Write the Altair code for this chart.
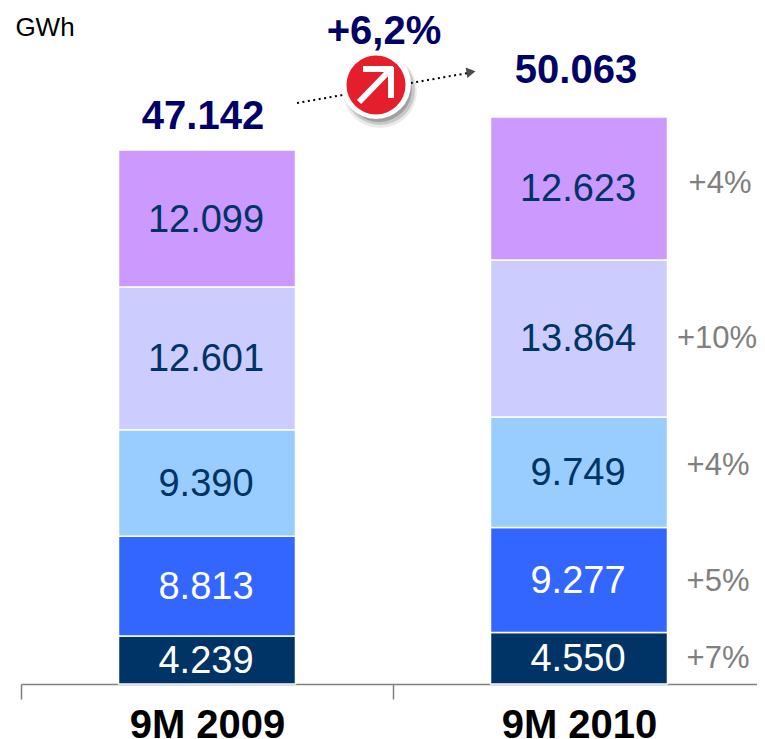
import altair as alt
import pandas as pd

periods = ["9M 2009", "9M 2010"]
series = ["s1", "s2", "s3", "s4", "s5"]
values_2009 = [4239, 8813, 9390, 12601, 12099]
values_2010 = [4550, 9277, 9749, 13864, 12623]
labels_2009 = ["4.239", "8.813", "9.390", "12.601", "12.099"]
labels_2010 = ["4.550", "9.277", "9.749", "13.864", "12.623"]
growth = ["+7%", "+5%", "+4%", "+10%", "+4%"]
totals = [47142, 50063]
total_labels = ["47.142", "50.063"]
colors = ["#003366", "#3366FF", "#99CCFF", "#CCCCFF", "#CC99FF"]
ink = ["#FFFFFF", "#FFFFFF", "#003366", "#003366", "#003366"]

rows = []
for period, vals, labs in [(periods[0], values_2009, labels_2009), (periods[1], values_2010, labels_2010)]:
    run = 0
    for s, v, lab, g in zip(series, vals, labs, growth):
        rows.append(dict(period=period, series=s, start=run, end=run + v, mid=run + v / 2, label=lab, growth=g))
        run += v
df = pd.DataFrame(rows)

FONT = "Liberation Sans"
xenc = alt.X("period:N", sort=periods, title=None, scale=alt.Scale(paddingInner=0, paddingOuter=0),
             axis=alt.Axis(labelAngle=0, labelFont=FONT, labelFontSize=40, labelFontWeight="bold", labelColor="#000000",
                           labelPadding=6, tickBand="extent", tickSize=15, tickColor="#808080", tickWidth=1.5,
                           domainColor="#808080", domainWidth=1.5, grid=False))
yscale = alt.Scale(domain=[0, 59687], nice=False, zero=False)
yenc = alt.Y("start:Q", scale=yscale, axis=None, title=None)
base = alt.Chart(df)

bars = base.mark_bar(size=177, stroke="#FFFFFF", strokeWidth=1.5).encode(
    x=xenc, y=yenc, y2="end:Q",
    color=alt.Color("series:N", scale=alt.Scale(domain=series, range=colors), legend=None),
)
seg_text = base.mark_text(font=FONT, fontSize=38, dy=2, dx=-1).encode(
    x=alt.X("period:N", sort=periods), y=alt.Y("mid:Q", scale=yscale),
    text="label:N",
    color=alt.Color("series:N", scale=alt.Scale(domain=series, range=ink), legend=None),
)

layers = [bars]

df_tot = pd.DataFrame({"period": periods, "total": totals, "label": total_labels})
for i, (dx, dy) in enumerate([(-4, -33), (-3, -46)]):
    layers.append(alt.Chart(df_tot.iloc[[i]]).mark_text(font=FONT, fontSize=40, fontWeight="bold", color="#000066", dx=dx, dy=dy).encode(
        x=alt.X("period:N", sort=periods), y=alt.Y("total:Q", scale=yscale), text="label:N"))

# growth labels beside the 2010 column
d10 = df[df.period == periods[1]]
for i, (dx, dy) in enumerate([(139, 1), (139, 2), (139, -6), (138, 1), (141, -4)]):
    layers.append(alt.Chart(d10.iloc[[i]]).mark_text(font=FONT, fontSize=31, color="#808080", dx=dx, dy=dy).encode(
        x=alt.X("period:N", sort=periods), y=alt.Y("mid:Q", scale=yscale), text="growth:N"))

OX, OY = 21, 8  # page position of the plot origin
def px(v): return alt.value(v - OX)
def py(v): return alt.value(v - OY)

note = alt.Chart(pd.DataFrame({"a": [0]}))
def rule(x1, y1, x2, y2, **kw):
    return note.mark_rule(**kw).encode(x=px(x1), y=py(y1), x2=px(x2), y2=py(y2))
def dot(x, y, d, color, opacity=1):
    return note.mark_point(filled=True, shape="circle", size=d * d, color=color, opacity=opacity, strokeWidth=0).encode(x=px(x), y=py(y))

layers += [
    rule(297, 103, 468, 73, color="#000000", strokeWidth=2, strokeDash=[2, 3.5]),
    note.mark_point(filled=True, shape="triangle-right", size=110, color="#000000", angle=350, strokeWidth=0).encode(x=px(471), y=py(72)),
    dot(380, 91, 74, "#000000", 0.08),
    dot(380, 90, 70, "#000000", 0.14),
    dot(379, 89, 66, "#000000", 0.2),
    dot(376, 84, 70, "#FFFFFF"),
    dot(376, 85, 59, "#E41E2B"),
    rule(359, 102, 391, 69, color="#FFFFFF", strokeWidth=6),
    rule(363, 69, 393, 69, color="#FFFFFF", strokeWidth=6),
    rule(391, 67, 391, 98, color="#FFFFFF", strokeWidth=6),
    note.mark_text(font=FONT, fontSize=40, fontWeight="bold", color="#000066", text="+6,2%").encode(x=px(384), y=py(32)),
    note.mark_text(font=FONT, fontSize=26, color="#000000", text="GWh").encode(x=px(45), y=py(28)),
]
layers.insert(1, seg_text)

chart = alt.layer(*layers).resolve_scale(color="independent").properties(
    width=744, height=676,
    padding={"left": 13, "top": 0, "right": -8, "bottom": 55},
    autosize=alt.AutoSizeParams(type="none", contains="content"),
    background="#FFFFFF",
).configure_view(stroke=None)

chart.save("out.html", embed_options={"renderer": "svg", "actions": False})
